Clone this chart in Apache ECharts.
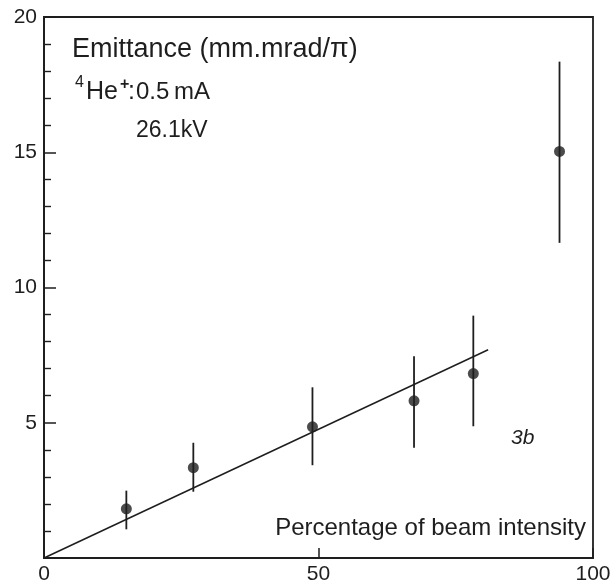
<!DOCTYPE html>
<html>
<head>
<meta charset="utf-8">
<script src="https://cdn.jsdelivr.net/npm/echarts@6/dist/echarts.min.js"></script>
<style>html,body{margin:0;padding:0;background:#fff}#c{width:616px;height:585px}</style>
</head>
<body>
<div id="c"></div>
<script>
// Data
const beamPct   = [15, 27.2, 48.9, 67.4, 78.2, 93.9];
const emittance = [1.82, 3.34, 4.85, 5.81, 6.82, 15.03];
const errLow    = [1.06, 2.45, 3.43, 4.08, 4.87, 11.65];
const errHigh   = [2.49, 4.26, 6.31, 7.46, 8.96, 18.35];
const fitX      = [0, 80.9];
const fitY      = [0, 7.7];
const xTicks    = [0, 50, 100];
const yTicks    = [5, 10, 15, 20];

const ink = '#1e1e1e';
const font = '"Liberation Sans", Arial, sans-serif';
const narrow = '"Liberation Sans Narrow", "Liberation Sans", sans-serif';
const chart = echarts.init(document.getElementById('c'), null, {renderer: 'canvas'});

const points = beamPct.map((x, i) => [x, emittance[i]]);
const bars = beamPct.map((x, i) => [x, errLow[i], errHigh[i]]);
const fit = fitX.map((x, i) => [x, fitY[i]]);

function txt(str, x, y, size, extra) {
  return {type: 'text', x: x, y: y, style: Object.assign({
    text: str, fill: ink, font: (extra && extra.pre ? extra.pre + ' ' : '') + size + 'px ' + font,
    textAlign: (extra && extra.align) || 'left', textVerticalAlign: 'middle',
    align: (extra && extra.align) || 'left', verticalAlign: 'middle'
  })};
}

chart.setOption({
  animation: false,
  backgroundColor: '#fff',
  grid: {left: 44, right: 23, top: 17, bottom: 22, show: true, borderColor: ink, borderWidth: 1.8, containLabel: false},
  xAxis: {
    type: 'value', min: 0, max: 100, interval: 50,
    axisLine: {show: true, lineStyle: {color: ink, width: 1.8}},
    axisTick: {show: true, inside: true, length: 10, lineStyle: {color: ink, width: 1.5}},
    axisLabel: {color: ink, fontSize: 21, fontFamily: narrow, margin: 6,
      formatter: v => xTicks.includes(v) ? String(v) : ''},
    splitLine: {show: false}
  },
  yAxis: {
    type: 'value', min: 0, max: 20, interval: 5,
    axisLine: {show: true, lineStyle: {color: ink, width: 1.8}},
    axisTick: {show: true, inside: true, length: 12, lineStyle: {color: ink, width: 1.5}},
    minorTick: {show: true, splitNumber: 5, length: 7, lineStyle: {color: ink, width: 1.4}},
    axisLabel: {color: ink, fontSize: 21, fontFamily: narrow, margin: 7,
      formatter: v => yTicks.includes(v) ? String(v) : ''},
    splitLine: {show: false}
  },
  series: [
    {
      type: 'line', data: fit, showSymbol: false, symbol: 'none',
      lineStyle: {color: ink, width: 1.5}, z: 2
    },
    {
      type: 'custom', data: bars, z: 3,
      renderItem: (params, api) => {
        const x = api.value(0);
        const lo = api.coord([x, api.value(1)]);
        const hi = api.coord([x, api.value(2)]);
        return {type: 'line', shape: {x1: lo[0], y1: lo[1], x2: hi[0], y2: hi[1]},
          style: {stroke: ink, lineWidth: 1.8}};
      }
    },
    {
      type: 'scatter', data: points, symbol: 'circle', symbolSize: 11,
      itemStyle: {color: ink}, z: 4
    }
  ],
  graphic: [
    txt('Emittance (mm.mrad/π)', 72, 50, 27),
    txt('4', 75, 83, 16),
    txt('He', 86, 92, 25),
    txt('+', 120, 85, 16, {pre: 'bold'}),
    txt(':', 128, 92, 25),
    txt('0.5', 136, 92, 24),
    txt('mA', 174, 92, 24),
    txt('26.1kV', 136, 131, 23),
    txt('Percentage of beam intensity', 586, 528, 24, {align: 'right'}),
    txt('3b', 511, 438, 21, {pre: 'italic'})
  ]
});
</script>
</body>
</html>
